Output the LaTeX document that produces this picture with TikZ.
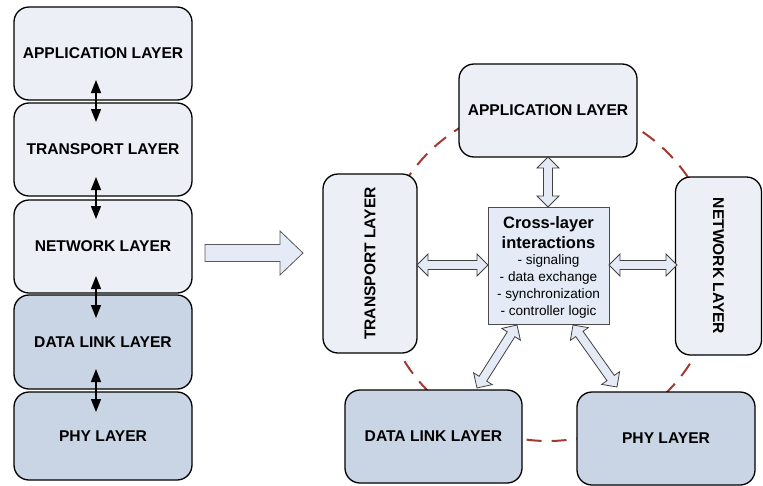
\documentclass[tikz,border=0pt]{standalone}
\usepackage{fontspec}
\setmainfont{Liberation Sans}
\usetikzlibrary{calc,arrows.meta}
\definecolor{lightfill}{HTML}{ECEFF5}
\definecolor{darkfill}{HTML}{C9D5E4}
\definecolor{arrowfill}{HTML}{E4EBF6}
\definecolor{circred}{HTML}{A23A32}
\newcommand\myblockarrow[2]{%
  \draw[barrow] (#1)
    -- ($(#1)!11pt!(#2)!11pt!90:(#2)$)
    -- ($(#1)!11pt!(#2)!4.5pt!90:(#2)$)
    -- ($(#2)!11pt!(#1)!4.5pt!-90:(#1)$)
    -- ($(#2)!11pt!(#1)!11pt!-90:(#1)$)
    -- (#2)
    -- ($(#2)!11pt!(#1)!11pt!90:(#1)$)
    -- ($(#2)!11pt!(#1)!4.5pt!90:(#1)$)
    -- ($(#1)!11pt!(#2)!4.5pt!-90:(#2)$)
    -- ($(#1)!11pt!(#2)!11pt!-90:(#2)$)
    -- cycle;}
\newcommand\cxbold{\fontsize{16.5}{20}\selectfont\bfseries}
\tikzset{
  layer/.style={draw=black, line width=1.3pt, rounded corners=15pt, rectangle,
    font=\fontsize{15.6}{18}\selectfont\bfseries, align=center, inner sep=0pt},
  lightlayer/.style={layer, fill=lightfill},
  darklayer/.style={layer, fill=darkfill},
  stackarrow/.style={line width=1.3pt, {Triangle[length=13pt,width=10pt]}-{Triangle[length=13pt,width=10pt]}},
  barrow/.style={draw=black!75, fill=arrowfill, line width=0.8pt, line join=miter},
  bigarrow/.style={draw=black!65, fill=arrowfill, line width=0.8pt, line join=miter},
  circ/.style={draw=circred, line width=2pt, dash pattern=on 15pt off 10pt},
  centerbox/.style={draw=black!70, fill=arrowfill, line width=0.8pt, rectangle, inner sep=0pt,
    font=\fontsize{13.6}{17}\selectfont}
}
\begin{document}
\begin{tikzpicture}[x=1pt,y=-1pt]
\useasboundingbox (0,0) rectangle (763,485);
% left stack
\node[lightlayer, minimum width=178pt, minimum height=93pt] (lapp) at (103,53.5) {APPLICATION LAYER};
\node[lightlayer, minimum width=178pt, minimum height=93pt] (ltrans) at (103,149.5) {TRANSPORT LAYER};
\node[lightlayer, minimum width=178pt, minimum height=93pt] (lnet) at (103,246.5) {NETWORK LAYER};
\node[darklayer, minimum width=178pt, minimum height=94pt] (ldl) at (103,342) {DATA LINK LAYER};
\node[darklayer, minimum width=178pt, minimum height=88pt] (lphy) at (103,436) {PHY LAYER};
\coordinate (s1a) at (96,80);  \coordinate (s1b) at (96,122);
\coordinate (s2a) at (96,177); \coordinate (s2b) at (96,219);
\coordinate (s3a) at (96,276); \coordinate (s3b) at (96,318);
\coordinate (s4a) at (96,369); \coordinate (s4b) at (96,412);
\draw[stackarrow] (s1a) -- (s1b);
\draw[stackarrow] (s2a) -- (s2b);
\draw[stackarrow] (s3a) -- (s3b);
\draw[stackarrow] (s4a) -- (s4b);
% big arrow
\coordinate (ba) at (205,253);
\coordinate (bb) at (303,253);
\draw[bigarrow] ($(ba)+(0,-8.5)$) -- ($(bb)+(-23,-8.5)$) -- ($(bb)+(-23,-22)$) -- (bb)
  -- ($(bb)+(-23,22)$) -- ($(bb)+(-23,8.5)$) -- ($(ba)+(0,8.5)$) -- cycle;
% dashed circle
\coordinate (cc) at (548,272);
\draw[circ] (cc) circle[radius=169pt];
% right boxes
\node[lightlayer, minimum width=178pt, minimum height=93pt] (rapp) at (548,110.5) {APPLICATION LAYER};
\node[lightlayer, minimum width=94pt, minimum height=179pt] (rtrans) at (370,263.5) {\rotatebox{90}{TRANSPORT LAYER}};
\node[lightlayer, minimum width=86pt, minimum height=178pt] (rnet) at (718.5,266) {\rotatebox{-90}{NETWORK LAYER}};
\node[darklayer, minimum width=177pt, minimum height=93pt] (rdl) at (433.5,436.5) {DATA LINK LAYER};
\node[darklayer, minimum width=178pt, minimum height=93pt] (rphy) at (666,438.5) {PHY LAYER};
\node[centerbox, minimum width=121pt, minimum height=117pt] (center) at (548.5,265.5)
  {\raisebox{-3.5pt}[\height][\depth]{\begin{tabular}{@{}c@{}}
   \cxbold Cross-layer\\[3pt]
   \cxbold interactions\\[-1pt]
   - signaling\\
   - data exchange\\
   - synchronization\\
   - controller logic
   \end{tabular}}};
% block arrows
\coordinate (t1) at (548,157); \coordinate (t2) at (548,207);
\coordinate (l1) at (417,265); \coordinate (l2) at (488,265);
\coordinate (r1) at (609,265); \coordinate (r2) at (677,265);
\coordinate (dl1) at (517,325); \coordinate (dl2) at (477,388);
\coordinate (ph1) at (573,325); \coordinate (ph2) at (617,387);
\myblockarrow{t1}{t2}
\myblockarrow{l1}{l2}
\myblockarrow{r1}{r2}
\myblockarrow{dl1}{dl2}
\myblockarrow{ph1}{ph2}
\end{tikzpicture}
\end{document}
